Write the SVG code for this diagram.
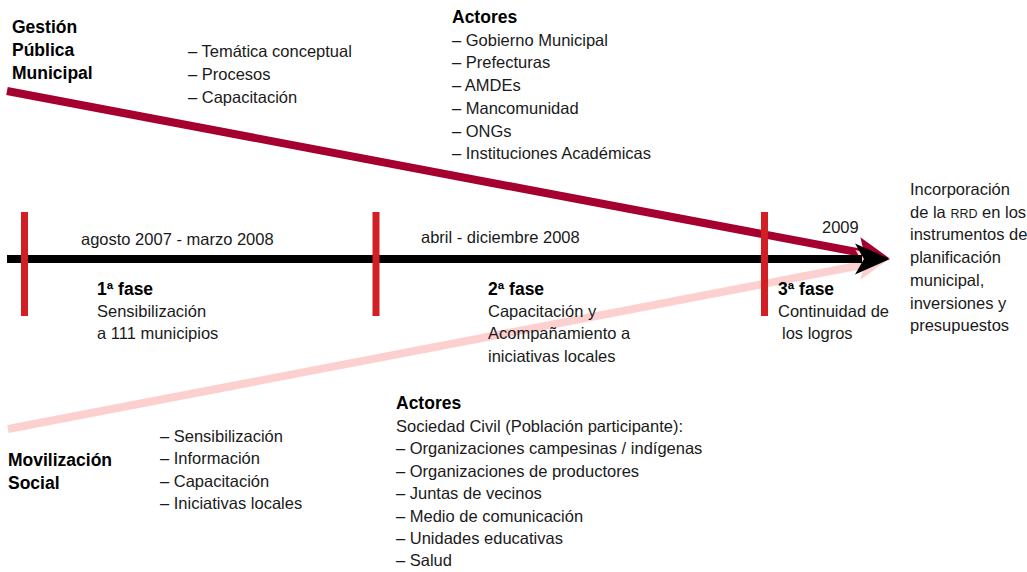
<svg xmlns="http://www.w3.org/2000/svg" width="1027" height="572" viewBox="0 0 1027 572">
<style>
text{font-family:"Liberation Sans",Arial,sans-serif;font-size:16.5px;fill:#1a1a1a}
.b{font-weight:bold;fill:#000;font-size:17.5px}
.bar{fill:#d11f26}
.sc{font-size:12.5px}
</style>
<rect width="1027" height="572" fill="#fff"/>
<g id="connectors">
<line x1="7" y1="91" x2="862" y2="253" stroke="#a5002f" stroke-width="8"/>
<polygon points="889,258 854.8,266.7 864,253 860.4,237.3" fill="#a5002f"/>
<line x1="8" y1="429" x2="862" y2="265" stroke="#fdd0d0" stroke-width="8"/>
<polygon points="889,259 860.4,279.7 864,265 855.5,250" fill="#fdd0d0"/>
<line x1="7" y1="259" x2="862" y2="259" stroke="#000" stroke-width="8"/>
<polygon points="890,259 855,243.5 864,259 855,274.5" fill="#000"/>
</g>
<g id="bars">
<rect class="bar" x="21" y="212" width="7" height="104"/>
<rect class="bar" x="372.5" y="212" width="7" height="104"/>
<rect class="bar" x="761" y="212" width="7" height="104"/>
</g>
<g id="gestion">
<text class="b" x="12" y="33">Gestión</text>
<text class="b" x="12" y="56">Pública</text>
<text class="b" x="12" y="79">Municipal</text>
</g>
<g id="gestion-items">
<text x="188" y="57">– Temática conceptual</text>
<text x="188" y="80">– Procesos</text>
<text x="188" y="103">– Capacitación</text>
</g>
<g id="actores-top">
<text class="b" x="452" y="23">Actores</text>
<text x="452" y="46">– Gobierno Municipal</text>
<text x="452" y="68">– Prefecturas</text>
<text x="452" y="91">– AMDEs</text>
<text x="452" y="114">– Mancomunidad</text>
<text x="452" y="137">– ONGs</text>
<text x="452" y="159">– Instituciones Académicas</text>
</g>
<g id="dates">
<text x="81" y="245">agosto 2007 - marzo 2008</text>
<text x="421" y="243">abril - diciembre 2008</text>
<text x="822" y="233">2009</text>
</g>
<g id="fase1">
<text class="b" x="97" y="295">1ª fase</text>
<text x="97" y="317">Sensibilización</text>
<text x="97" y="339">a 111 municipios</text>
</g>
<g id="fase2">
<text class="b" x="488" y="295">2ª fase</text>
<text x="488" y="317">Capacitación y</text>
<text x="488" y="339">Acompañamiento a</text>
<text x="488" y="362">iniciativas locales</text>
</g>
<g id="fase3">
<text class="b" x="778" y="295">3ª fase</text>
<text x="778" y="317">Continuidad de</text>
<text x="782" y="339">los logros</text>
</g>
<g id="resultado">
<text x="910" y="195">Incorporación</text>
<text x="910" y="218">de la <tspan class="sc">RRD</tspan> en los</text>
<text x="910" y="240">instrumentos de</text>
<text x="910" y="263">planificación</text>
<text x="910" y="286">municipal,</text>
<text x="910" y="309">inversiones y</text>
<text x="910" y="331">presupuestos</text>
</g>
<g id="movilizacion">
<text class="b" x="8" y="466">Movilización</text>
<text class="b" x="8" y="489">Social</text>
</g>
<g id="movilizacion-items">
<text x="160" y="442">– Sensibilización</text>
<text x="160" y="464">– Información</text>
<text x="160" y="487">– Capacitación</text>
<text x="160" y="509">– Iniciativas locales</text>
</g>
<g id="actores-bottom">
<text class="b" x="396" y="409">Actores</text>
<text x="396" y="432">Sociedad Civil (Población participante):</text>
<text x="396" y="454">– Organizaciones campesinas / indígenas</text>
<text x="396" y="477">– Organizaciones de productores</text>
<text x="396" y="499">– Juntas de vecinos</text>
<text x="396" y="522">– Medio de comunicación</text>
<text x="396" y="544">– Unidades educativas</text>
<text x="396" y="566">– Salud</text>
</g>
</svg>
